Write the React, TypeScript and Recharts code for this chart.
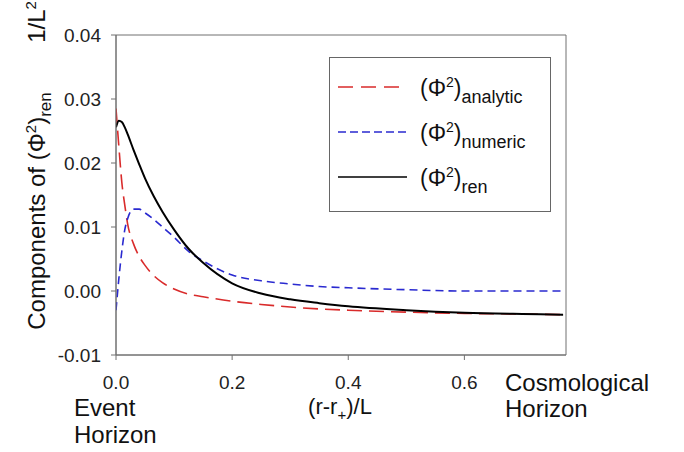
import React from 'react';
import { LineChart, Line, XAxis, YAxis, ReferenceArea, Legend } from 'recharts';

// distance from event horizon, (r - r+)/L
const rValues = [0, 0.005, 0.01, 0.015, 0.02, 0.03, 0.04, 0.05, 0.065, 0.08, 0.1, 0.125, 0.15, 0.2, 0.25, 0.3, 0.35, 0.4, 0.5, 0.6, 0.7, 0.77];

// components of <phi^2>_ren, in units of 1/L^2
const analyticValues = [0.0285, 0.0225, 0.017, 0.0135, 0.0105, 0.0074, 0.0054, 0.004, 0.0024, 0.0013, 0.0003, -0.0005, -0.0009, -0.0016, -0.0021, -0.0025, -0.0028, -0.003, -0.0033, -0.0035, -0.0036, -0.0037];
const numericValues = [-0.003, 0.002, 0.0062, 0.0095, 0.0113, 0.0128, 0.0128, 0.0122, 0.0112, 0.01, 0.0084, 0.0062, 0.0047, 0.0025, 0.0016, 0.0011, 0.0007, 0.0005, 0.0002, 0.0, 0.0, 0.0];
const renValues = [0.0256, 0.0266, 0.0264, 0.0256, 0.0245, 0.0221, 0.0198, 0.0176, 0.0148, 0.0124, 0.0096, 0.0066, 0.0044, 0.0012, -0.0004, -0.0013, -0.0019, -0.0024, -0.003, -0.0034, -0.0036, -0.0037];

const xTicks = [0, 0.2, 0.4, 0.6];
const yTicks = [-0.01, 0, 0.01, 0.02, 0.03, 0.04];

const data = rValues.map((r, i) => ({
  r,
  analytic: analyticValues[i],
  numeric: numericValues[i],
  ren: renValues[i],
}));

const FONT = '"Liberation Sans", Arial, sans-serif';
const AXIS_COLOR = '#707070';
const RED = '#d92b2b';
const BLUE = '#2a2ad0';

const legendRows = [
  { key: 'analytic', color: RED, dash: '15 8', width: 1.6, sub: 'analytic' },
  { key: 'numeric', color: BLUE, dash: '8 4', width: 1.6, sub: 'numeric' },
  { key: 'ren', color: '#000', dash: undefined, width: 1.6, sub: 'ren' },
];

// legend box drawn by hand so the Φ² labels can carry sub/superscripts
const LegendBox = () => (
  <svg width={223} height={156} style={{ display: 'block', fontFamily: FONT }}>
    <rect x={0.5} y={0.5} width={221} height={154} fill="#fff" stroke="#666" />
    {legendRows.map((row, i) => {
      const y = 30 + i * 45;
      return (
        <g key={row.key}>
          <line x1={9} x2={78} y1={y} y2={y} stroke={row.color} strokeWidth={row.width} strokeDasharray={row.dash} />
          <text x={91} y={y + 9} fontSize={23} fill="#111">
            (Φ<tspan dy={-9} fontSize={14}>2</tspan>
            <tspan dy={9}>)</tspan>
            <tspan dy={7} fontSize={18}>{row.sub}</tspan>
          </text>
        </g>
      );
    })}
  </svg>
);

const XLabels = () => (
  <g fontFamily={FONT} fill="#111">
    <text x={340} y={414} textAnchor="middle" fontSize={22}>
      (r-r<tspan dy={6} fontSize={15}>+</tspan>
      <tspan dy={-6}>)/L</tspan>
    </text>
    <text x={74} y={416} fontSize={24}>Event</text>
    <text x={74} y={443} fontSize={24}>Horizon</text>
    <text x={505} y={391} fontSize={24}>Cosmological</text>
    <text x={505} y={417} fontSize={24}>Horizon</text>
  </g>
);

const YLabels = () => (
  <g fontFamily={FONT} fill="#111">
    <text x={45} y={211} transform="rotate(-90, 45, 211)" textAnchor="middle" fontSize={24}>
      Components of (Φ<tspan dy={-9} fontSize={15}>2</tspan>
      <tspan dy={9}>)</tspan>
      <tspan dy={6} fontSize={17}>ren</tspan>
    </text>
    <text x={45} y={22} transform="rotate(-90, 45, 22)" textAnchor="middle" fontSize={24}>
      1/L<tspan dy={-9} fontSize={15}>2</tspan>
    </text>
  </g>
);

const App: React.FC = () => {
  return (
    <div style={{ position: 'absolute', left: 0, top: 0, width: 684, height: 452, background: '#fff' }}>
      <LineChart width={684} height={452} data={data} margin={{ top: 35, right: 118, bottom: 37, left: 0 }}>
        <XAxis
          dataKey="r"
          type="number"
          domain={[0, 0.775]}
          allowDataOverflow
          ticks={xTicks}
          tickFormatter={(v: number) => v.toFixed(1)}
          height={60}
          stroke={AXIS_COLOR}
          tickSize={5}
          tickMargin={16}
          tick={{ fill: '#222', fontSize: 19, fontFamily: FONT }}
          label={{ content: () => <XLabels /> }}
        />
        <YAxis
          type="number"
          domain={[-0.01, 0.04]}
          allowDataOverflow
          ticks={yTicks}
          tickFormatter={(v: number) => v.toFixed(2)}
          width={116}
          stroke={AXIS_COLOR}
          tickSize={5}
          tickMargin={10}
          tick={{ fill: '#222', fontSize: 19, fontFamily: FONT }}
          label={{ content: () => <YLabels /> }}
        />
        {/* frame around the plot area */}
        <ReferenceArea x1={0} x2={0.775} y1={-0.01} y2={0.04} fill="none" stroke={AXIS_COLOR} strokeWidth={1} ifOverflow="visible" />
        <Line type="monotone" dataKey="analytic" stroke={RED} strokeWidth={1.6} strokeDasharray="15 7" dot={false} isAnimationActive={false} />
        <Line type="monotone" dataKey="numeric" stroke={BLUE} strokeWidth={1.6} strokeDasharray="8 5" dot={false} isAnimationActive={false} />
        <Line type="monotone" dataKey="ren" stroke="#000" strokeWidth={2} dot={false} isAnimationActive={false} />
        <Legend
          layout="horizontal"
          verticalAlign="middle"
          align="center"
          content={() => <LegendBox />}
          wrapperStyle={{ position: 'absolute', left: 329, top: 57, width: 223, height: 156 }}
        />
      </LineChart>
    </div>
  );
};

export default App;
